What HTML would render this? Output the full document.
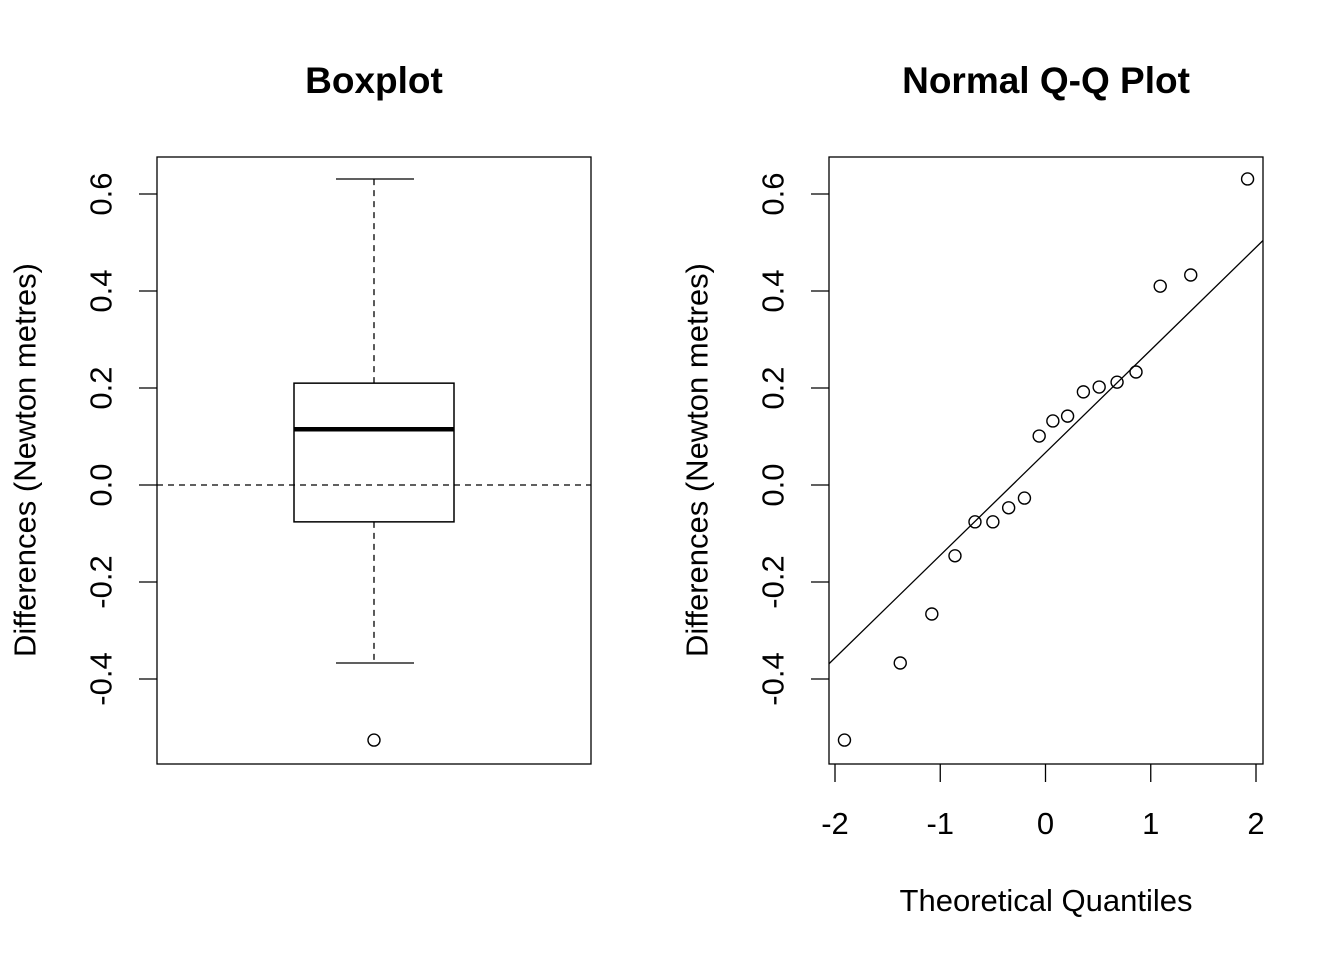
<!DOCTYPE html>
<html><head><meta charset="utf-8"><style>
html,body{margin:0;padding:0;background:#fff}
svg text{font-family:"Liberation Sans",Arial,sans-serif;fill:#000}
</style></head><body>
<svg id="c" width="1344" height="960" xmlns="http://www.w3.org/2000/svg">
<rect width="1344" height="960" fill="#fff"/>
</svg>
<script>
// ---- data ----
const yTicks = [-0.4, -0.2, 0.0, 0.2, 0.4, 0.6];
const yTickLabels = ["-0.4", "-0.2", "0.0", "0.2", "0.4", "0.6"];
const xTicks = [-2, -1, 0, 1, 2];
const xTickLabels = ["-2", "-1", "0", "1", "2"];
const boxStats = [-0.367, -0.076, 0.115, 0.21, 0.631]; // lower whisker, Q1, median, Q3, upper whisker
const boxOutliers = [-0.526];
const qqTheoretical = [-1.91, -1.38, -1.08, -0.86, -0.67, -0.50, -0.35, -0.20, -0.06, 0.07, 0.21, 0.36, 0.51, 0.68, 0.86, 1.09, 1.38, 1.92];
const qqSample = [-0.526, -0.367, -0.266, -0.146, -0.076, -0.076, -0.047, -0.027, 0.101, 0.132, 0.142, 0.192, 0.202, 0.212, 0.233, 0.41, 0.433, 0.631];

const svg = document.getElementById('c');
const NS = 'http://www.w3.org/2000/svg';
function mk(tag, attrs, parent){ const e=document.createElementNS(NS,tag); for(const k in attrs) e.setAttribute(k,attrs[k]); (parent||svg).appendChild(e); return e; }

const yMap = v => 485 - 485*v;
const xMap = v => 1045.5 + 105.25*v;

function panel(x0, x1, title, titleX, name){
  const g = mk('g', {});
  
  
  const r = mk('rect', {x:x0, y:157, width:x1-x0, height:607, fill:'none', stroke:'#000', 'stroke-width':1.3}, g);
  
  
  const t = mk('text', {x:titleX, y:93, 'text-anchor':'middle', 'font-size':'37', 'font-weight':'bold'}, g);
  t.textContent = title;
  
  
  const ax = mk('g', {}, g);
  
  
  yTicks.forEach((v,i)=>{
    const y=yMap(v);
    mk('line', {x1:x0-18, x2:x0, y1:y, y2:y, stroke:'#000','stroke-width':1.3}, ax);
    const lx = x0-56;
    const tl = mk('text', {x:lx, y:y, 'text-anchor':'middle', 'dominant-baseline':'central', 'font-size':'31', transform:`rotate(-90 ${lx} ${y})`}, ax);
    tl.textContent = yTickLabels[i];
    
    
  });
  const yl = mk('text', {x:x0-132, y:460, 'text-anchor':'middle', 'dominant-baseline':'central', 'font-size':'31', transform:`rotate(-90 ${x0-132} 460)`}, g);
  yl.textContent = 'Differences (Newton metres)';
  
  
  return g;
}

// ---- boxplot ----
const g1 = panel(157, 591, 'Boxplot', 374, 'boxplot-panel');
mk('line', {x1:157, x2:591, y1:yMap(0), y2:yMap(0), stroke:'#000','stroke-width':1.3,'stroke-dasharray':'6,5'}, g1);
const cx = 374;
const wl = mk('line', {x1:cx, x2:cx, y1:yMap(boxStats[3]), y2:yMap(boxStats[4]), stroke:'#000','stroke-width':1.3,'stroke-dasharray':'6,5'}, g1);

const wl2 = mk('line', {x1:cx, x2:cx, y1:yMap(boxStats[1]), y2:yMap(boxStats[0]), stroke:'#000','stroke-width':1.3,'stroke-dasharray':'6,5'}, g1);

[boxStats[0], boxStats[4]].forEach(v=>{
  const c = mk('line', {x1:336, x2:414, y1:yMap(v), y2:yMap(v), stroke:'#000','stroke-width':1.3}, g1);
  
});
const box = mk('rect', {x:294, y:yMap(boxStats[3]), width:160, height:yMap(boxStats[1])-yMap(boxStats[3]), fill:'none', stroke:'#000','stroke-width':1.5}, g1);


const med = mk('line', {x1:294, x2:454, y1:yMap(boxStats[2]), y2:yMap(boxStats[2]), stroke:'#000','stroke-width':4.5}, g1);

boxOutliers.forEach(v=>{
  const o = mk('circle', {cx:cx, cy:yMap(v), r:6, fill:'none', stroke:'#000','stroke-width':1.4}, g1);
  
  
});

// ---- QQ plot ----
const g2 = panel(829, 1263, 'Normal Q-Q Plot', 1046, 'qq-panel');
const xa = mk('g', {}, g2);


xTicks.forEach((v,i)=>{
  const x=xMap(v);
  mk('line', {x1:x, x2:x, y1:764, y2:782, stroke:'#000','stroke-width':1.3}, xa);
  const tl = mk('text', {x:x, y:834, 'text-anchor':'middle', 'font-size':'31'}, xa);
  tl.textContent = xTickLabels[i];
  
  
});
const xl = mk('text', {x:1046, y:911, 'text-anchor':'middle', 'font-size':'31'}, g2);
xl.textContent = 'Theoretical Quantiles';


// qqline through quartiles
const srt = qqSample.slice().sort((a,b)=>a-b);
function quant(p){ const h=(srt.length-1)*p; const lo=Math.floor(h); return srt[lo]+(h-lo)*((srt[Math.min(lo+1,srt.length-1)])-srt[lo]); }
const q1=quant(0.25), q3=quant(0.75), z=0.6744898;
const slope=(q3-q1)/(2*z), icpt=q1+slope*z;
const xL=(829-1045.5)/105.25, xR=(1263-1045.5)/105.25;
const ql = mk('line', {x1:829, x2:1263, y1:yMap(icpt+slope*xL), y2:yMap(icpt+slope*xR), stroke:'#000','stroke-width':1.3}, g2);


qqTheoretical.forEach((t,i)=>{
  const p = mk('circle', {cx:xMap(t), cy:yMap(qqSample[i]), r:6, fill:'none', stroke:'#000','stroke-width':1.4}, g2);
  
  
});
</script>
</body></html>
